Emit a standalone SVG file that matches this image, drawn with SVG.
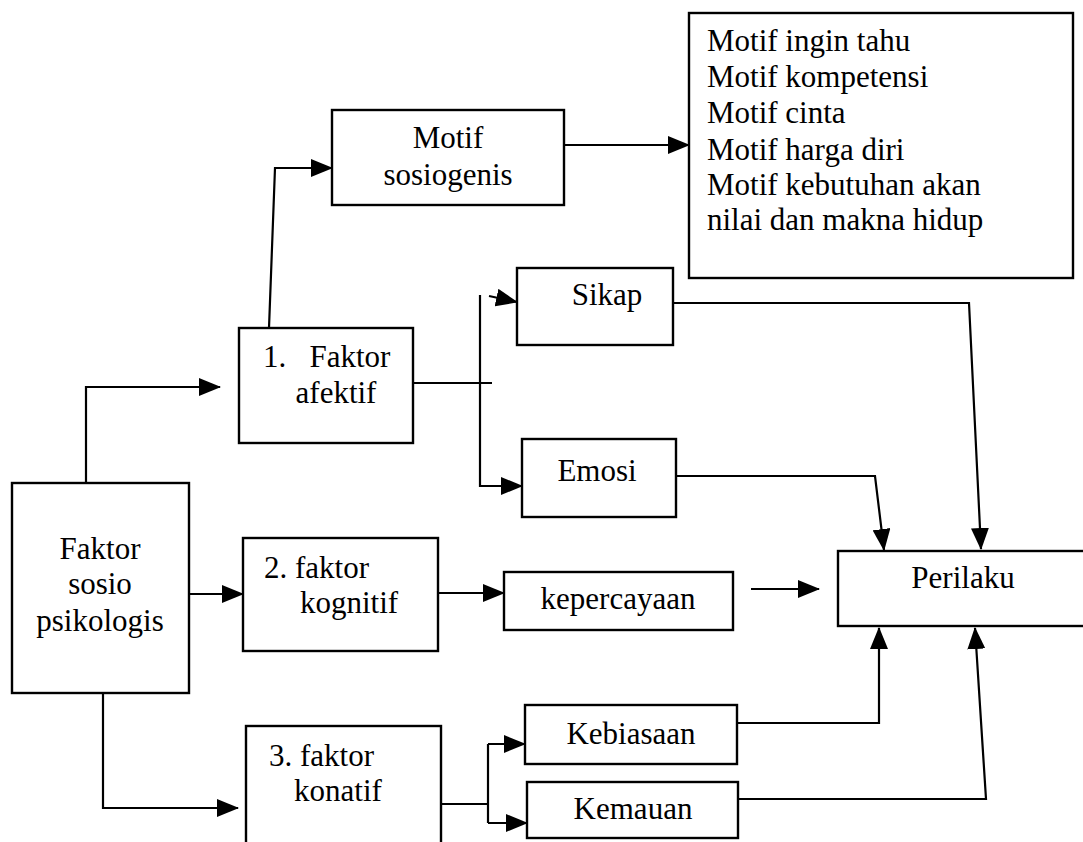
<svg xmlns="http://www.w3.org/2000/svg" width="1083" height="842" viewBox="0 0 1083 842">
<style>
.box{fill:#fff;stroke:#000;stroke-width:2.4}
.tx{font-family:"Liberation Serif","DejaVu Serif",serif;font-size:31px;fill:#000}
.m{text-anchor:middle}
.c{fill:none;stroke:#000;stroke-width:2.2}
</style>
<defs>
<marker id="ah" markerUnits="userSpaceOnUse" markerWidth="22" markerHeight="18" refX="21" refY="9" orient="auto">
<path d="M0,0 L22,9 L0,18 Z" fill="#000"/>
</marker>
</defs>
<rect width="1083" height="842" fill="#fff"/>
<g id="connectors">
<path class="c" d="M86,483 L86,387 L220,387" marker-end="url(#ah)"/>
<path class="c" d="M269,328 L275,168 L332,168" marker-end="url(#ah)"/>
<path class="c" d="M564,145 L689,145" marker-end="url(#ah)"/>
<path class="c" d="M413,383 L492,383"/>
<path class="c" d="M480,295 L480,486 L522,486" marker-end="url(#ah)"/>
<path class="c" d="M489,296 L517,302" marker-end="url(#ah)"/>
<path class="c" d="M673,303 L969,303 L981,549" marker-end="url(#ah)"/>
<path class="c" d="M676,476 L875,476 L884,550" marker-end="url(#ah)"/>
<path class="c" d="M189,594 L243,594" marker-end="url(#ah)"/>
<path class="c" d="M438,593 L504,593" marker-end="url(#ah)"/>
<path class="c" d="M751,589 L819,589" marker-end="url(#ah)"/>
<path class="c" d="M103,693 L103,808 L238,808" marker-end="url(#ah)"/>
<path class="c" d="M441,804 L488,804"/>
<path class="c" d="M488,744 L488,823"/>
<path class="c" d="M488,744 L525,744" marker-end="url(#ah)"/>
<path class="c" d="M488,823 L527,823" marker-end="url(#ah)"/>
<path class="c" d="M737,723 L879,723 L879,628" marker-end="url(#ah)"/>
<path class="c" d="M738,799 L986,799 L975,628" marker-end="url(#ah)"/>
</g>
<g class="tx">
<g id="motif-sosiogenis">
<rect class="box" x="332" y="110" width="232" height="95"/>
<text class="m" x="448" y="148">Motif</text>
<text class="m" x="448" y="185">sosiogenis</text>
</g>
<g id="motif-list">
<rect class="box" x="689" y="13" width="384" height="265"/>
<text x="707" y="51">Motif ingin tahu</text>
<text x="707" y="87">Motif kompetensi</text>
<text x="707" y="123">Motif cinta</text>
<text x="707" y="160">Motif harga diri</text>
<text x="707" y="195">Motif kebutuhan akan</text>
<text x="707" y="230">nilai dan makna hidup</text>
</g>
<g id="faktor-afektif">
<rect class="box" x="239" y="328" width="174" height="115"/>
<text x="263" y="367" xml:space="preserve">1.   Faktor</text>
<text class="m" x="336" y="403">afektif</text>
</g>
<g id="sikap">
<rect class="box" x="517" y="268" width="156" height="77"/>
<text class="m" x="607" y="305">Sikap</text>
</g>
<g id="emosi">
<rect class="box" x="522" y="439" width="154" height="78"/>
<text class="m" x="597" y="481">Emosi</text>
</g>
<g id="faktor-sosio">
<rect class="box" x="12" y="483" width="177" height="210"/>
<text class="m" x="100" y="559">Faktor</text>
<text class="m" x="100" y="594">sosio</text>
<text class="m" x="100" y="631">psikologis</text>
</g>
<g id="faktor-kognitif">
<rect class="box" x="243" y="538" width="195" height="113"/>
<text x="264" y="578">2. faktor</text>
<text class="m" x="349" y="613">kognitif</text>
</g>
<g id="kepercayaan">
<rect class="box" x="504" y="572" width="229" height="58"/>
<text class="m" x="618" y="609">kepercayaan</text>
</g>
<g id="perilaku">
<rect class="box" x="838" y="551" width="260" height="75"/>
<text class="m" x="963" y="588">Perilaku</text>
</g>
<g id="faktor-konatif">
<rect class="box" x="246" y="726" width="195" height="130"/>
<text x="269" y="766">3. faktor</text>
<text class="m" x="338" y="801">konatif</text>
</g>
<g id="kebiasaan">
<rect class="box" x="525" y="705" width="212" height="59"/>
<text class="m" x="631" y="744">Kebiasaan</text>
</g>
<g id="kemauan">
<rect class="box" x="527" y="782" width="211" height="56"/>
<text class="m" x="633" y="819">Kemauan</text>
</g>
</g>
</svg>
